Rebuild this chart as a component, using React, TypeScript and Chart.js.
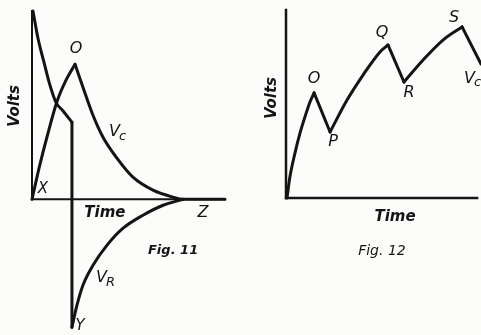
import React, { useEffect, useRef } from "react";
import { Chart, registerables } from "chart.js";

Chart.register(...registerables);

// ---------- Fig. 11 data (time units, volts units) ----------
const fig11VcChargeTime = [0, 0.4, 0.8, 1.3, 1.75, 2.23];
const fig11VcChargeVolts = [0, 1.8, 3.4, 5.2, 6.3, 7.17];
const fig11VcDischargeTime = [2.23, 2.64, 3.16, 3.68, 4.4, 5.23, 6.27, 7.31, 7.82, 10];
const fig11VcDischargeVolts = [7.17, 5.95, 4.46, 3.29, 2.18, 1.17, 0.48, 0.11, 0, 0];
const fig11VrChargeTime = [0.05, 0.31, 0.62, 0.93, 1.24, 1.6, 2.07];
const fig11VrChargeVolts = [10, 8.55, 7.28, 6.06, 5.15, 4.7, 4.09];
const fig11VrReverseTime = [2.07, 2.07];
const fig11VrReverseVolts = [4.09, -6.8];
const fig11VrDischargeTime = [2.07, 2.33, 2.64, 3.16, 3.89, 4.72, 5.75, 6.79, 7.82];
const fig11VrDischargeVolts = [-6.8, -5.63, -4.57, -3.51, -2.44, -1.54, -0.85, -0.32, 0];

// ---------- Fig. 12 data ----------
const fig12RiseTime = [0.05, 0.2, 0.46, 0.72, 0.97, 1.23, 1.44];
const fig12RiseVolts = [0, 1.12, 2.39, 3.46, 4.31, 5.11, 5.59];
const fig12DropOPTime = [1.44, 2.26];
const fig12DropOPVolts = [5.59, 3.51];
const fig12RisePQTime = [2.26, 3.13, 3.95, 4.82, 5.23];
const fig12RisePQVolts = [3.51, 5.21, 6.54, 7.77, 8.14];
const fig12DropQRTime = [5.23, 6.05];
const fig12DropQRVolts = [8.14, 6.17];
const fig12RiseRSTime = [6.05, 7.03, 8.05, 9.03];
const fig12RiseRSVolts = [6.17, 7.34, 8.4, 9.1];
const fig12DropSTime = [9.03, 10.0, 10.31];
const fig12DropSVolts = [9.1, 7.13, 6.49];

const INK = "#141414";
const PAPER = "#fcfcfa";
const FAMILY = '"DejaVu Sans", sans-serif';

const pts = (t: number[], v: number[]) => t.map((x, i) => ({ x, y: v[i] }));

type Label = {
  text: string;
  sub?: string;
  t: number;
  v: number;
  font: string;
  subFont?: string;
  rotate?: number;
};

type Axis = { from: [number, number]; to: [number, number]; width: number };

const fig11Labels: Label[] = [
  { text: "O", t: 2.28, v: 7.98, font: "italic 16px" },
  { text: "V", sub: "c", t: 4.46, v: 3.56, font: "italic 16px", subFont: "italic 13px" },
  { text: "X", t: 0.57, v: 0.53, font: "italic 15px" },
  { text: "Time", t: 3.78, v: -0.74, font: "italic bold 15px" },
  { text: "Z", t: 8.86, v: -0.74, font: "italic 16px" },
  { text: "Fig. 11", t: 7.31, v: -2.71, font: "italic bold 13px" },
  { text: "V", sub: "R", t: 3.83, v: -4.2, font: "italic 16px", subFont: "italic 13px" },
  { text: "Y", t: 2.49, v: -6.76, font: "italic 15px" },
  { text: "Volts", t: -0.88, v: 4.95, font: "italic bold 15px", rotate: -90 },
];

const fig12Labels: Label[] = [
  { text: "O", t: 1.44, v: 6.33, font: "italic 16px" },
  { text: "P", t: 2.41, v: 2.98, font: "italic 16px" },
  { text: "Q", t: 4.92, v: 8.78, font: "italic 16px" },
  { text: "R", t: 6.31, v: 5.59, font: "italic 16px" },
  { text: "S", t: 8.62, v: 9.57, font: "italic 16px" },
  { text: "V", sub: "c", t: 9.59, v: 6.33, font: "italic 16px", subFont: "italic 13px" },
  { text: "Time", t: 5.59, v: -1.01, font: "italic bold 15px" },
  { text: "Fig. 12", t: 4.92, v: -2.82, font: "italic 14px" },
  { text: "Volts", t: -0.72, v: 5.32, font: "italic bold 15px", rotate: -90 },
];

const fig11Axes: Axis[] = [
  { from: [0, 10], to: [0, 0], width: 2 },
  { from: [0, 0], to: [10, 0], width: 2 },
];
const fig12Axes: Axis[] = [
  { from: [0, 10], to: [0, 0], width: 2.5 },
  { from: [0, 0], to: [9.8, 0], width: 2.5 },
];

const paperPlugin = {
  id: "paper",
  beforeDatasetsDraw(chart: any, _a: any, opts: any) {
    const { ctx } = chart;
    const xs = chart.scales.x;
    const ys = chart.scales.y;
    ctx.save();
    ctx.strokeStyle = INK;
    ctx.lineCap = "square";
    for (const a of (opts.axes || []) as Axis[]) {
      ctx.lineWidth = a.width;
      ctx.beginPath();
      ctx.moveTo(xs.getPixelForValue(a.from[0]), ys.getPixelForValue(a.from[1]));
      ctx.lineTo(xs.getPixelForValue(a.to[0]), ys.getPixelForValue(a.to[1]));
      ctx.stroke();
    }
    ctx.restore();
  },
  afterDatasetsDraw(chart: any, _a: any, opts: any) {
    const { ctx } = chart;
    const xs = chart.scales.x;
    const ys = chart.scales.y;
    for (const l of (opts.labels || []) as Label[]) {
      const px = xs.getPixelForValue(l.t);
      const py = ys.getPixelForValue(l.v);
      ctx.save();
      ctx.fillStyle = INK;
      ctx.translate(px, py);
      if (l.rotate) ctx.rotate((l.rotate * Math.PI) / 180);
      ctx.textBaseline = "middle";
      ctx.font = `${l.font} ${FAMILY}`;
      const w1 = ctx.measureText(l.text).width;
      let w2 = 0;
      if (l.sub) {
        ctx.font = `${l.subFont} ${FAMILY}`;
        w2 = ctx.measureText(l.sub).width;
      }
      const start = -(w1 + w2) / 2;
      ctx.textAlign = "left";
      ctx.font = `${l.font} ${FAMILY}`;
      ctx.fillText(l.text, start, 0);
      if (l.sub) {
        ctx.font = `${l.subFont} ${FAMILY}`;
        ctx.fillText(l.sub, start + w1 - 1, 4);
      }
      ctx.restore();
    }
  },
};

const lineDs = (data: { x: number; y: number }[], curved: boolean) => ({
  data,
  borderColor: INK,
  borderWidth: 3,
  pointRadius: 0,
  tension: curved ? 0.4 : 0,
  cubicInterpolationMode: curved ? ("monotone" as const) : ("default" as const),
  fill: false,
  clip: false as const,
  borderCapStyle: "round" as const,
  borderJoinStyle: "round" as const,
});

type FigProps = {
  width: number;
  height: number;
  left: number;
  datasets: any[];
  xRange: [number, number];
  yRange: [number, number];
  padding: { left: number; right: number; top: number; bottom: number };
  labels: Label[];
  axes: Axis[];
};

function Figure(p: FigProps) {
  const ref = useRef<HTMLCanvasElement | null>(null);
  useEffect(() => {
    if (!ref.current) return;
    const chart = new Chart(ref.current, {
      type: "line",
      data: { datasets: p.datasets },
      options: {
        animation: false,
        responsive: false,
        devicePixelRatio: 1,
        layout: { padding: p.padding },
        plugins: {
          legend: { display: false },
          tooltip: { enabled: false },
          paper: { labels: p.labels, axes: p.axes },
        } as any,
        scales: {
          x: { type: "linear", display: false, min: p.xRange[0], max: p.xRange[1] },
          y: { type: "linear", display: false, min: p.yRange[0], max: p.yRange[1] },
        },
      },
      plugins: [paperPlugin],
    });
    return () => chart.destroy();
  }, []);
  return (
    <canvas
      ref={ref}
      width={p.width}
      height={p.height}
      style={{ position: "absolute", left: p.left, top: 0, width: p.width, height: p.height }}
    />
  );
}

export default function App() {
  const fig11Datasets = [
    lineDs(pts(fig11VcChargeTime, fig11VcChargeVolts), true),
    lineDs(pts(fig11VcDischargeTime, fig11VcDischargeVolts), true),
    lineDs(pts(fig11VrChargeTime, fig11VrChargeVolts), true),
    lineDs(pts(fig11VrReverseTime, fig11VrReverseVolts), false),
    lineDs(pts(fig11VrDischargeTime, fig11VrDischargeVolts), true),
  ];
  const fig12Datasets = [
    lineDs(pts(fig12RiseTime, fig12RiseVolts), true),
    lineDs(pts(fig12DropOPTime, fig12DropOPVolts), false),
    lineDs(pts(fig12RisePQTime, fig12RisePQVolts), true),
    lineDs(pts(fig12DropQRTime, fig12DropQRVolts), false),
    lineDs(pts(fig12RiseRSTime, fig12RiseRSVolts), true),
    lineDs(pts(fig12DropSTime, fig12DropSVolts), false),
  ];
  return (
    <div
      style={{
        position: "fixed",
        left: 0,
        top: 0,
        width: 481,
        height: 335,
        background: PAPER,
        overflow: "hidden",
      }}
    >
      <Figure
        width={240}
        height={335}
        left={0}
        datasets={fig11Datasets}
        xRange={[0, 10]}
        yRange={[-7, 10]}
        padding={{ left: 32, right: 15, top: 11, bottom: 4 }}
        labels={fig11Labels}
        axes={fig11Axes}
      />
      <Figure
        width={241}
        height={335}
        left={240}
        datasets={fig12Datasets}
        xRange={[0, 10]}
        yRange={[0, 10]}
        padding={{ left: 46, right: 0, top: 10, bottom: 137 }}
        labels={fig12Labels}
        axes={fig12Axes}
      />
    </div>
  );
}
